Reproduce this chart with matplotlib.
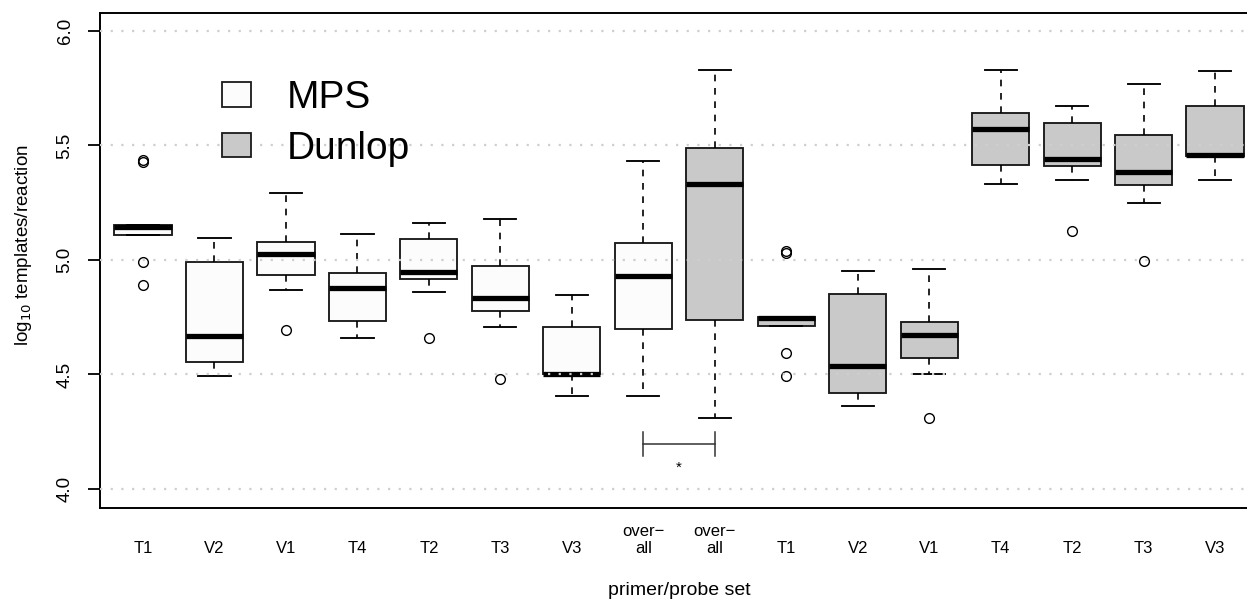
import matplotlib.pyplot as plt
from matplotlib.patches import Patch

plt.rcParams['font.family'] = ['Liberation Sans', 'DejaVu Sans']

# primer/probe sets, MPS first then Dunlop
labels = ['T1', 'V2', 'V1', 'T4', 'T2', 'T3', 'V3', 'over\u2212\nall',
          'over\u2212\nall', 'T1', 'V2', 'V1', 'T4', 'T2', 'T3', 'V3']
groups = ['MPS'] * 8 + ['Dunlop'] * 8

medians = [5.144, 4.669, 5.026, 4.878, 4.946, 4.833, 4.502, 4.930,
           5.333, 4.748, 4.536, 4.674, 5.572, 5.442, 5.384, 5.457]
q1 = [5.109, 4.553, 4.933, 4.734, 4.917, 4.779, 4.502, 4.699,
      4.740, 4.712, 4.421, 4.571, 5.413, 5.410, 5.326, 5.455]
q3 = [5.153, 4.990, 5.080, 4.942, 5.090, 4.975, 4.706, 5.074,
      5.490, 4.752, 4.852, 4.731, 5.641, 5.597, 5.545, 5.672]
whislo = [5.109, 4.493, 4.869, 4.661, 4.860, 4.709, 4.405, 4.405,
          4.311, 4.712, 4.362, 4.502, 5.333, 5.348, 5.248, 5.349]
whishi = [5.153, 5.095, 5.291, 5.114, 5.160, 5.179, 4.847, 5.434,
          5.831, 4.752, 4.953, 4.961, 5.831, 5.674, 5.769, 5.824]
fliers = [[5.437, 5.427, 4.993, 4.891], [], [4.694], [], [4.658], [4.480], [], [],
          [], [5.040, 5.030, 4.595, 4.492], [], [4.311], [], [5.128], [4.997], []]

# significance bracket between the two "overall" boxes
sig_pair = [8, 9]
sig_y = 4.198
sig_tick = [4.145, 4.250]
sig_label = '*'

colors = {'MPS': '#fcfcfc', 'Dunlop': '#c9c9c9'}

fig = plt.figure(figsize=(12.47, 6.01), dpi=100)
ax = fig.add_axes([100 / 1247, 93 / 601, 1147 / 1247, 495 / 601])

stats = []
for i in range(len(labels)):
    stats.append(dict(med=medians[i], q1=q1[i], q3=q3[i],
                      whislo=whislo[i], whishi=whishi[i], fliers=fliers[i]))

positions = list(range(1, len(labels) + 1))
bp = ax.bxp(stats, positions=positions, widths=0.8, capwidths=0.45,
            patch_artist=True, showfliers=True,
            boxprops=dict(edgecolor='#1a1a1a', linewidth=1.35),
            medianprops=dict(color='black', linewidth=3.8, solid_capstyle='butt'),
            whiskerprops=dict(color='black', linewidth=1.2, linestyle=(0, (4, 4))),
            capprops=dict(color='black', linewidth=1.35),
            flierprops=dict(marker='o', markersize=7, markerfacecolor='none',
                            markeredgecolor='black', markeredgewidth=1.0))
for patch, g in zip(bp['boxes'], groups):
    patch.set_facecolor(colors[g])

# bracket
ax.plot(sig_pair, [sig_y, sig_y], color='#333333', lw=1.1)
for px in sig_pair:
    ax.plot([px, px], sig_tick, color='#333333', lw=1.1)
ax.text(sum(sig_pair) / 2, 4.092, sig_label, ha='center', va='center', fontsize=11)

ax.set_xlim(0.398, 16.447)
ax.set_ylim(3.917, 6.0786)

# dotted grid drawn on top of the boxes
for yv in [4.0, 4.5, 5.0, 5.5, 6.0]:
    ax.axhline(yv, color='#cfcfcf', lw=1.6, linestyle=(0, (1, 3.8)), zorder=5)

ax.set_yticks([4.0, 4.5, 5.0, 5.5, 6.0])
ax.set_yticklabels(['4.0', '4.5', '5.0', '5.5', '6.0'], rotation=90, va='center')
ax.tick_params(axis='y', length=9, width=1.3, pad=10, labelsize=13.5)
ax.set_xticks([])
for pos, lab in zip(positions, labels):
    ax.text(pos, -0.097, lab, transform=ax.get_xaxis_transform(),
            ha='center', va='bottom', fontsize=12, linespacing=1.15)

for side in ['top', 'left', 'bottom']:
    ax.spines[side].set_linewidth(1.4)
ax.spines['right'].set_visible(False)

ax.set_xlabel('primer/probe set', fontsize=14)
ax.xaxis.set_label_coords(0.505, -0.166)
ax.xaxis.label.set_va('center')
ax.set_ylabel('log$_{10}$ templates/reaction', fontsize=13.5)
ax.yaxis.set_label_coords(-0.067, 0.53)
ax.yaxis.label.set_va('center')

handles = [Patch(facecolor=colors['MPS'], edgecolor='#1a1a1a', lw=1.3, label='MPS'),
           Patch(facecolor=colors['Dunlop'], edgecolor='#1a1a1a', lw=1.3, label='Dunlop')]
ax.legend(handles=handles, loc='upper left', bbox_to_anchor=(222 / 1247, 1 - 80 / 601),
          bbox_transform=fig.transFigure, frameon=False, fontsize=28,
          handlelength=0.75, handleheight=0.6, handletextpad=0.92,
          labelspacing=0.38, borderpad=0, borderaxespad=0)

fig.savefig('out.png', dpi=100)
